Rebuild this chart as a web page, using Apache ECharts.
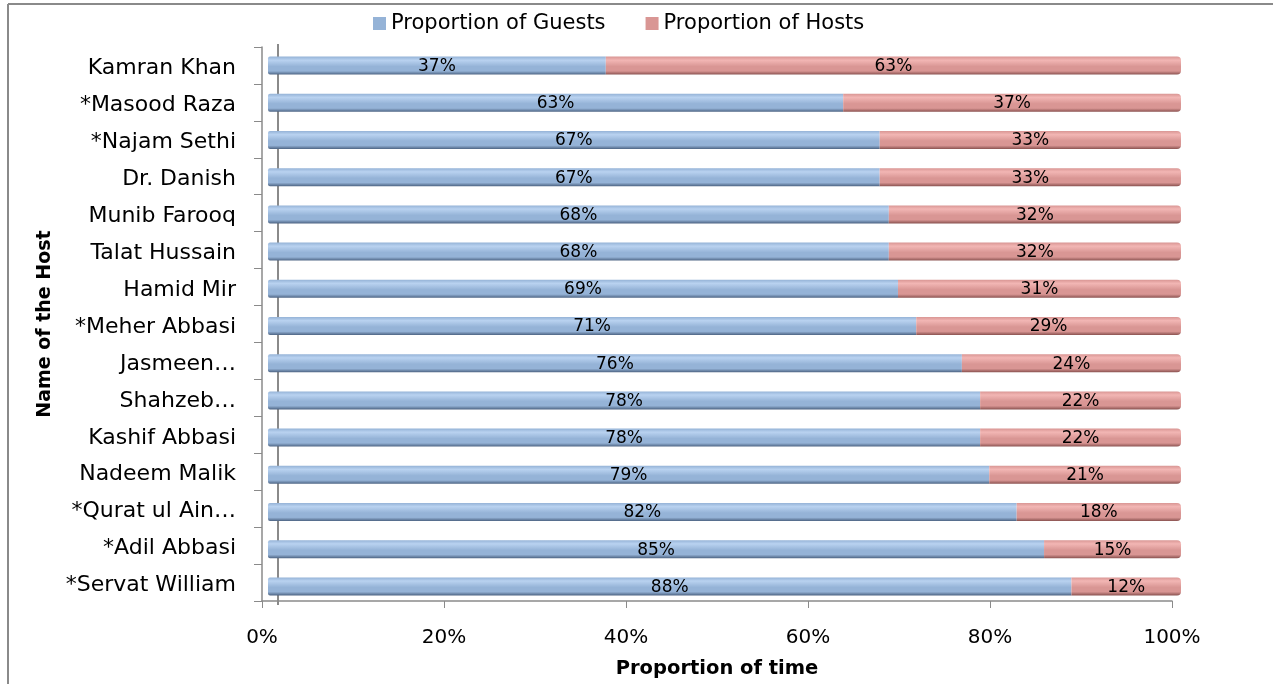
<!DOCTYPE html>
<html>
<head>
<meta charset="utf-8">
<script src="https://cdn.jsdelivr.net/npm/echarts@6/dist/echarts.min.js"></script>
<style>html,body{margin:0;padding:0;background:#fff}#c{width:1273px;height:684px}</style>
</head>
<body>
<div id="c"></div>
<script>
const hosts = ['Kamran Khan','*Masood Raza','*Najam Sethi','Dr. Danish','Munib Farooq','Talat Hussain','Hamid Mir','*Meher Abbasi','Jasmeen…','Shahzeb…','Kashif Abbasi','Nadeem Malik','*Qurat ul Ain…','*Adil Abbasi','*Servat William'];
const guestShare = [37,63,67,67,68,68,69,71,76,78,78,79,82,85,88];
const hostShare = [63,37,33,33,32,32,31,29,24,22,22,21,18,15,12];
const xTicks = [0,20,40,60,80,100];

const FONT = '"DejaVu Sans", sans-serif';
const chart = echarts.init(document.getElementById('c'));
function grad(hi, mid, bot){
  return new echarts.graphic.LinearGradient(0,0,0,1,[
    {offset:0,color:mid},{offset:0.2,color:hi},{offset:0.55,color:mid},{offset:0.8,color:mid},{offset:1,color:bot}
  ]);
}
const blue = grad('#b9d2f0','#95b3d7','#4d6483');
const pink = grad('#f2b6b4','#d99694','#8a5250');
const lbl = {show:true, position:'inside', offset:[0,1], color:'#000', fontSize:17, fontFamily:FONT, formatter:p=>p.value+'%'};

chart.setOption({
  animation:false,
  legend:{
    top:8, left:368, itemWidth:13, itemHeight:13, itemGap:40,
    icon:'rect',
    textStyle:{fontSize:21, fontFamily:FONT, color:'#000'},
    data:[{name:'Proportion of Guests',itemStyle:{color:'#95b3d7'}},{name:'Proportion of Hosts',itemStyle:{color:'#d99694'}}]
  },
  grid:[
    {left:262, right:101, top:47, bottom:79, containLabel:false},
    {left:268, right:92, top:47, bottom:79, containLabel:false}
  ],
  xAxis:[
    {gridIndex:0, type:'value', min:0, max:100, interval:20,
     axisLine:{show:true, lineStyle:{color:'#8a8a8a', width:1.5}},
     axisTick:{show:true, length:7, lineStyle:{color:'#8a8a8a'}},
     splitLine:{show:false},
     axisLabel:{formatter:v=>xTicks.includes(v)?v+'%':'', fontSize:20, fontFamily:FONT, color:'#000', margin:27},
     name:'Proportion of time', nameLocation:'middle', nameGap:58,
     nameTextStyle:{fontSize:19.5, fontWeight:'bold', fontFamily:FONT, color:'#000'}},
    {gridIndex:1, type:'value', min:0, max:100, show:false}
  ],
  yAxis:[
    {gridIndex:0, type:'category', data:hosts, inverse:true,
     axisLine:{show:true, lineStyle:{color:'#8a8a8a', width:1.5}},
     axisTick:{show:true, length:8, lineStyle:{color:'#8a8a8a'}},
     axisLabel:{fontSize:22, fontFamily:FONT, color:'#000', margin:26,
       formatter:v=>'{a|'+v+'}',
       rich:{a:{fontSize:22, fontFamily:FONT, color:'#000', padding:[6,0,0,0]}}},
     name:'Name of the Host', nameLocation:'middle', nameGap:206, nameRotate:90,
     nameTextStyle:{fontSize:19, fontWeight:'bold', fontFamily:FONT, color:'#000'}},
    {gridIndex:1, type:'category', data:hosts, inverse:true, show:false}
  ],
  series:[
    {name:'Proportion of Guests', type:'bar', stack:'t', xAxisIndex:1, yAxisIndex:1,
     data:guestShare, barWidth:18, itemStyle:{color:blue, borderRadius:[2,0,0,2]}, label:lbl},
    {name:'Proportion of Hosts', type:'bar', stack:'t', xAxisIndex:1, yAxisIndex:1,
     data:hostShare, barWidth:18, itemStyle:{color:pink, borderRadius:[0,4,4,0]}, label:lbl}
  ],
  graphic:[
    {type:'line', shape:{x1:8,y1:4,x2:1273,y2:4}, style:{stroke:'#8a8a8a', lineWidth:2}},
    {type:'line', shape:{x1:8,y1:4,x2:8,y2:684}, style:{stroke:'#8a8a8a', lineWidth:2}},
    {type:'line', shape:{x1:278,y1:44,x2:278,y2:605}, style:{stroke:'#8a8a8a', lineWidth:2}, z:-1}
  ]
});
</script>
</body>
</html>
